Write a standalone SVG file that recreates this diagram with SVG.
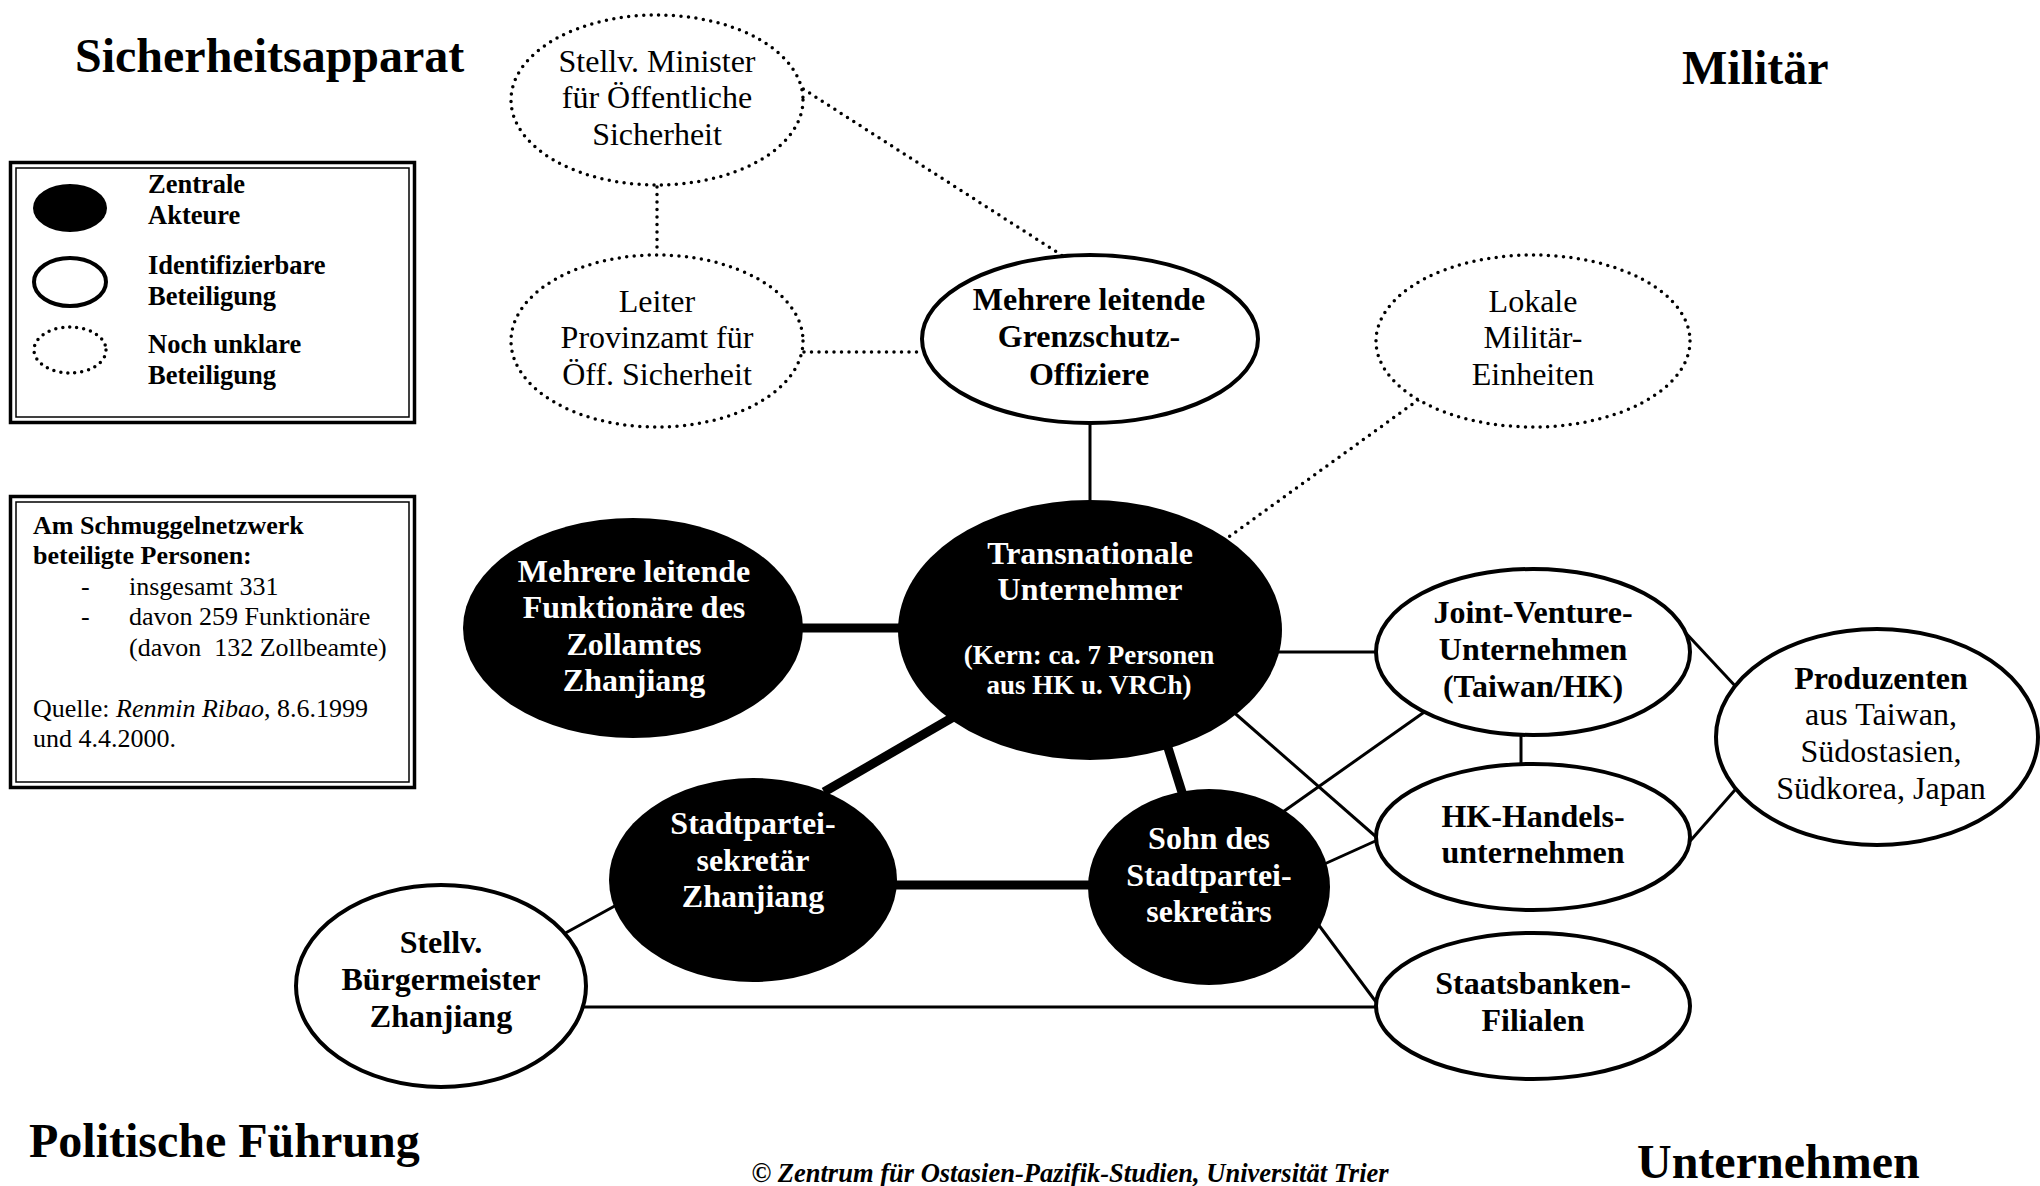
<svg xmlns="http://www.w3.org/2000/svg" width="2040" height="1186" viewBox="0 0 2040 1186">
<style>
text{font-family:"Liberation Serif","Times New Roman",serif;fill:#000}
.h{font-size:48px;font-weight:bold}
.nb{font-size:32px;font-weight:bold;text-anchor:middle}
.nr{font-size:32px;text-anchor:middle}
.ns{font-size:27px;font-weight:bold;text-anchor:middle}
.w{fill:#fff}
.lg{font-size:26.5px;font-weight:bold}
.lr{font-size:26px;white-space:pre}
.blk{fill:#000;stroke:none}
.sol{fill:#fff;stroke:#000;stroke-width:4}
.dot{fill:#fff;stroke:#000;stroke-width:3.5;stroke-dasharray:0 7.5;stroke-linecap:round}
.c1{stroke:#000;stroke-width:3;fill:none}
.c2{stroke:#000;stroke-width:9;fill:none}
.cd{stroke:#000;stroke-width:3.5;stroke-dasharray:0 7.5;stroke-linecap:round;fill:none}
.fr1{fill:none;stroke:#000;stroke-width:3.5}
.fr2{fill:none;stroke:#000;stroke-width:1.5}
</style>
<rect width="2040" height="1186" fill="#fff"/>

<!-- titles -->
<text class="h" x="75" y="72">Sicherheitsapparat</text>
<text class="h" x="1682" y="84">Militär</text>
<text class="h" x="29" y="1157">Politische Führung</text>
<text class="h" x="1637" y="1178">Unternehmen</text>
<text x="1070" y="1182" style="font-size:26.5px;font-weight:bold;font-style:italic;text-anchor:middle">© Zentrum für Ostasien-Pazifik-Studien, Universität Trier</text>

<!-- legend -->
<g id="legend">
<rect class="fr1" x="10.5" y="162.5" width="404" height="260"/>
<rect class="fr2" x="16" y="168" width="393" height="249"/>
<ellipse class="blk" cx="70" cy="208" rx="37" ry="24"/>
<ellipse cx="70" cy="282" rx="36" ry="24" fill="#fff" stroke="#000" stroke-width="4"/>
<ellipse cx="70" cy="350" rx="36" ry="23" fill="#fff" stroke="#000" stroke-width="3.5" stroke-dasharray="0 7" stroke-linecap="round"/>
<text class="lg" x="148" y="193">Zentrale</text>
<text class="lg" x="148" y="224">Akteure</text>
<text class="lg" x="148" y="274">Identifizierbare</text>
<text class="lg" x="148" y="305">Beteiligung</text>
<text class="lg" x="148" y="353">Noch unklare</text>
<text class="lg" x="148" y="384">Beteiligung</text>
</g>

<g id="info">
<rect class="fr1" x="10.5" y="496.5" width="404" height="291"/>
<rect class="fr2" x="16" y="502" width="393" height="280"/>
<text class="lg" x="33" y="534" style="font-size:26px">Am Schmuggelnetzwerk</text>
<text class="lg" x="33" y="564" style="font-size:26px">beteiligte Personen:</text>
<text class="lr" x="81" y="595">-</text>
<text class="lr" x="129" y="595">insgesamt 331</text>
<text class="lr" x="81" y="625">-</text>
<text class="lr" x="129" y="625">davon 259 Funktionäre</text>
<text class="lr" x="129" y="656">(davon  132 Zollbeamte)</text>
<text class="lr" x="33" y="717">Quelle: <tspan font-style="italic">Renmin Ribao</tspan>, 8.6.1999</text>
<text class="lr" x="33" y="747">und 4.4.2000.</text>
</g>

<!-- connectors -->
<g id="connectors">
<line class="cd" x1="657" y1="187" x2="657" y2="254"/>
<line class="cd" x1="797" y1="85" x2="1066" y2="258"/>
<line class="cd" x1="804" y1="352" x2="921" y2="352"/>
<line class="cd" x1="1418" y1="400" x2="1226" y2="539"/>
<line class="c1" x1="1090" y1="420" x2="1090" y2="505"/>
<line class="c1" x1="1270" y1="652" x2="1380" y2="652"/>
<line class="c1" x1="1230" y1="709" x2="1382" y2="842"/>
<line class="c1" x1="1280" y1="814" x2="1430" y2="708"/>
<line class="c1" x1="1320" y1="866" x2="1382" y2="838"/>
<line class="c1" x1="1312" y1="916" x2="1382" y2="1010"/>
<line class="c1" x1="1521" y1="730" x2="1521" y2="767"/>
<line class="c1" x1="1683" y1="630" x2="1738" y2="689"/>
<line class="c1" x1="1684" y1="848" x2="1742" y2="782"/>
<line class="c1" x1="560" y1="936" x2="622" y2="902"/>
<line class="c1" x1="580" y1="1007" x2="1382" y2="1007"/>
<line class="c2" x1="790" y1="628" x2="910" y2="628"/>
<line class="c2" x1="962" y1="712" x2="824" y2="792"/>
<line class="c2" x1="1164" y1="735" x2="1186" y2="805"/>
<line class="c2" x1="885" y1="885" x2="1100" y2="885"/>
</g>

<!-- nodes -->
<g id="n-minister">
<ellipse class="dot" cx="657" cy="100" rx="146" ry="85"/>
<text class="nr" x="657" y="72">Stellv. Minister</text>
<text class="nr" x="657" y="108">für Öffentliche</text>
<text class="nr" x="657" y="145">Sicherheit</text>
</g>
<g id="n-leiter">
<ellipse class="dot" cx="657" cy="341" rx="146" ry="86"/>
<text class="nr" x="657" y="312">Leiter</text>
<text class="nr" x="657" y="348">Provinzamt für</text>
<text class="nr" x="657" y="385">Öff. Sicherheit</text>
</g>
<g id="n-grenz">
<ellipse class="sol" cx="1090" cy="339" rx="168" ry="84"/>
<text class="nb" x="1089" y="310">Mehrere leitende</text>
<text class="nb" x="1089" y="347">Grenzschutz-</text>
<text class="nb" x="1089" y="385">Offiziere</text>
</g>
<g id="n-lokal">
<ellipse class="dot" cx="1533" cy="341" rx="157" ry="86"/>
<text class="nr" x="1533" y="312">Lokale</text>
<text class="nr" x="1533" y="348">Militär-</text>
<text class="nr" x="1533" y="385">Einheiten</text>
</g>
<g id="n-trans">
<ellipse class="blk" cx="1090" cy="630" rx="192" ry="130"/>
<text class="nb w" x="1090" y="564">Transnationale</text>
<text class="nb w" x="1090" y="600">Unternehmer</text>
<text class="ns w" x="1089" y="664">(Kern: ca. 7 Personen</text>
<text class="ns w" x="1089" y="694">aus HK u. VRCh)</text>
</g>
<g id="n-zoll">
<ellipse class="blk" cx="633" cy="628" rx="170" ry="110"/>
<text class="nb w" x="634" y="582">Mehrere leitende</text>
<text class="nb w" x="634" y="618">Funktionäre des</text>
<text class="nb w" x="634" y="655">Zollamtes</text>
<text class="nb w" x="634" y="691">Zhanjiang</text>
</g>
<g id="n-stadt">
<ellipse class="blk" cx="753" cy="880" rx="144" ry="102"/>
<text class="nb w" x="753" y="834">Stadtpartei-</text>
<text class="nb w" x="753" y="871">sekretär</text>
<text class="nb w" x="753" y="907">Zhanjiang</text>
</g>
<g id="n-sohn">
<ellipse class="blk" cx="1209" cy="887" rx="121" ry="98"/>
<text class="nb w" x="1209" y="849">Sohn des</text>
<text class="nb w" x="1209" y="886">Stadtpartei-</text>
<text class="nb w" x="1209" y="922">sekretärs</text>
</g>
<g id="n-buerger">
<ellipse class="sol" cx="441" cy="986" rx="145" ry="101"/>
<text class="nb" x="441" y="953">Stellv.</text>
<text class="nb" x="441" y="990">Bürgermeister</text>
<text class="nb" x="441" y="1027">Zhanjiang</text>
</g>
<g id="n-jv">
<ellipse class="sol" cx="1533" cy="652" rx="157" ry="83"/>
<text class="nb" x="1533" y="623">Joint-Venture-</text>
<text class="nb" x="1533" y="660">Unternehmen</text>
<text class="nb" x="1533" y="697">(Taiwan/HK)</text>
</g>
<g id="n-hk">
<ellipse class="sol" cx="1533" cy="837" rx="157" ry="73"/>
<text class="nb" x="1533" y="827">HK-Handels-</text>
<text class="nb" x="1533" y="863">unternehmen</text>
</g>
<g id="n-bank">
<ellipse class="sol" cx="1533" cy="1006" rx="157" ry="73"/>
<text class="nb" x="1533" y="994">Staatsbanken-</text>
<text class="nb" x="1533" y="1031">Filialen</text>
</g>
<g id="n-prod">
<ellipse class="sol" cx="1877" cy="737" rx="161" ry="108"/>
<text class="nb" x="1881" y="689">Produzenten</text>
<text class="nr" x="1881" y="725">aus Taiwan,</text>
<text class="nr" x="1881" y="762">Südostasien,</text>
<text class="nr" x="1881" y="799">Südkorea, Japan</text>
</g>
</svg>
